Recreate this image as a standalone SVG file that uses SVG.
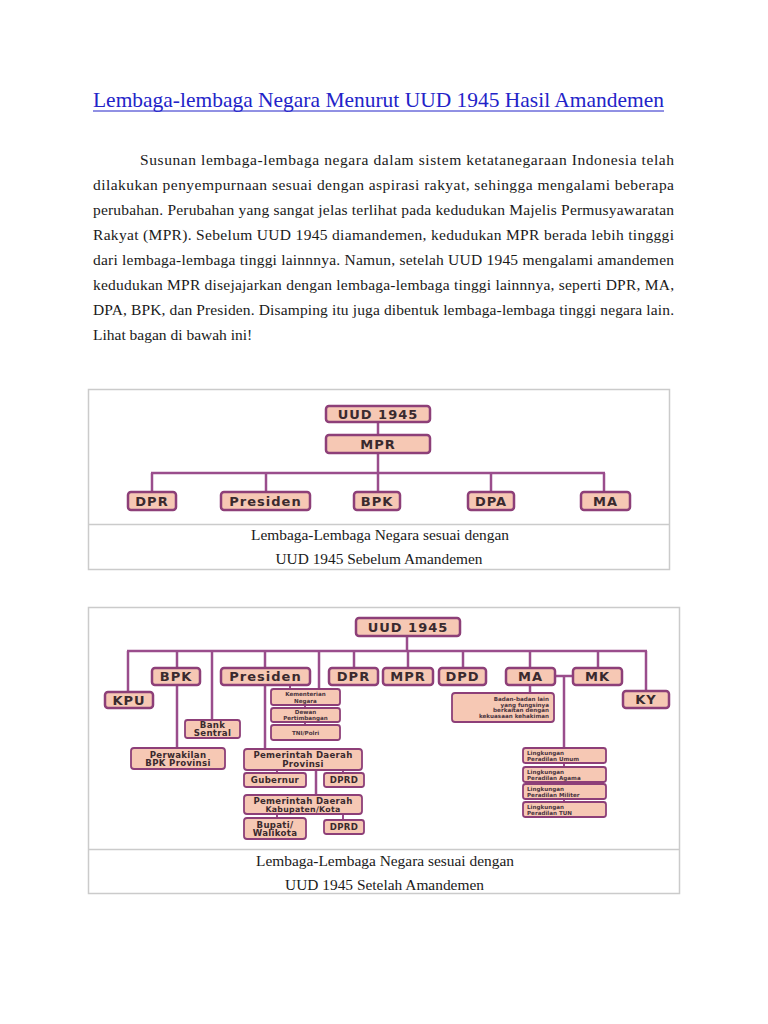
<svg xmlns="http://www.w3.org/2000/svg" width="768" height="1024" viewBox="0 0 768 1024">
<style>
.title{font-family:"Liberation Serif",serif;font-size:22px;fill:#2323c8}
.body{font-family:"Liberation Serif",serif;font-size:15.5px;fill:#1a1a1a}
.cap{font-family:"Liberation Serif",serif;font-size:14.5px;fill:#1a1a1a;text-anchor:middle}
.frame{fill:none;stroke:#cbcbcb;stroke-width:1.5}
.box{fill:#f6c8b4;stroke:#8d3f78;stroke-width:2.5}
.sbox{fill:#f6c8b4;stroke:#8d3f78;stroke-width:1.8}
.lbl{font-family:"DejaVu Sans",sans-serif;font-weight:bold;font-size:13px;letter-spacing:1px;fill:#3a2a2e;text-anchor:middle}
.mid{font-family:"DejaVu Sans",sans-serif;font-weight:bold;font-size:8.6px;letter-spacing:0.3px;fill:#3a2a2e;text-anchor:middle}
.tiny{font-family:"DejaVu Sans",sans-serif;font-weight:bold;font-size:5.6px;fill:#4a3540;text-anchor:middle}
.conn line{stroke:#9a4d8c;stroke-width:2.5}
.conn2 line{stroke:#9a4d8c;stroke-width:2}
</style>

<!-- Title & paragraph -->
<text class="title" x="93" y="107" textLength="571" lengthAdjust="spacingAndGlyphs">Lembaga-lembaga Negara Menurut UUD 1945 Hasil Amandemen</text>
<line x1="93" y1="111" x2="664" y2="111" stroke="#2323c8" stroke-width="1"/>

<text class="body" x="140" y="165" textLength="534" lengthAdjust="spacing">Susunan lembaga-lembaga negara dalam sistem ketatanegaraan Indonesia telah</text>
<text class="body" x="93" y="190" textLength="581" lengthAdjust="spacing">dilakukan penyempurnaan sesuai dengan aspirasi rakyat, sehingga mengalami beberapa</text>
<text class="body" x="93" y="215" textLength="581" lengthAdjust="spacing">perubahan. Perubahan yang sangat jelas terlihat pada kedudukan Majelis Permusyawaratan</text>
<text class="body" x="93" y="240" textLength="581" lengthAdjust="spacing">Rakyat (MPR). Sebelum UUD 1945 diamandemen, kedudukan MPR berada lebih tingggi</text>
<text class="body" x="93" y="265" textLength="581" lengthAdjust="spacing">dari lembaga-lembaga tinggi lainnnya. Namun, setelah UUD 1945 mengalami amandemen</text>
<text class="body" x="93" y="290" textLength="581" lengthAdjust="spacing">kedudukan MPR disejajarkan dengan lembaga-lembaga tinggi lainnnya, seperti DPR, MA,</text>
<text class="body" x="93" y="315" textLength="581" lengthAdjust="spacing">DPA, BPK, dan Presiden. Disamping itu juga dibentuk lembaga-lembaga tinggi negara lain.</text>
<text class="body" x="93" y="340">Lihat bagan di bawah ini!</text>

<!-- Frame 1 -->
<rect class="frame" x="88.5" y="389.5" width="581" height="180"/>
<line class="frame" x1="88.5" y1="524.5" x2="669.5" y2="524.5"/>
<text class="cap" x="380" y="540" textLength="258" lengthAdjust="spacingAndGlyphs">Lembaga-Lembaga Negara sesuai dengan</text>
<text class="cap" x="379" y="564" textLength="207" lengthAdjust="spacingAndGlyphs">UUD 1945 Sebelum Amandemen</text>

<!-- Diagram 1 connectors -->
<g id="connectors-before" class="conn">
<line x1="378" y1="422" x2="378" y2="435"/>
<line x1="378" y1="453" x2="378" y2="492"/>
<line x1="151" y1="473" x2="605" y2="473"/>
<line x1="152" y1="473" x2="152" y2="492"/>
<line x1="266" y1="473" x2="266" y2="492"/>
<line x1="491" y1="473" x2="491" y2="492"/>
<line x1="604" y1="473" x2="604" y2="492"/>
</g>
<g id="b-uud"><rect class="box" x="326" y="406" width="104" height="16" rx="3"/><text class="lbl" x="378" y="418.7">UUD 1945</text></g>
<g id="b-mpr"><rect class="box" x="326" y="435" width="104" height="18" rx="3"/><text class="lbl" x="378" y="448.7">MPR</text></g>
<g id="b-dpr"><rect class="box" x="128" y="492" width="48" height="18" rx="3"/><text class="lbl" x="152" y="505.7">DPR</text></g>
<g id="b-presiden"><rect class="box" x="221" y="492" width="89" height="18" rx="3"/><text class="lbl" x="265.5" y="505.7">Presiden</text></g>
<g id="b-bpk"><rect class="box" x="354" y="492" width="46" height="18" rx="3"/><text class="lbl" x="377" y="505.7">BPK</text></g>
<g id="b-dpa"><rect class="box" x="468" y="492" width="46" height="18" rx="3"/><text class="lbl" x="491" y="505.7">DPA</text></g>
<g id="b-ma"><rect class="box" x="581" y="492" width="49" height="18" rx="3"/><text class="lbl" x="605.5" y="505.7">MA</text></g>

<!-- Frame 2 -->
<rect class="frame" x="88.5" y="607.5" width="591" height="286"/>
<line class="frame" x1="88.5" y1="849.5" x2="679.5" y2="849.5"/>
<text class="cap" x="385" y="866" textLength="258" lengthAdjust="spacingAndGlyphs">Lembaga-Lembaga Negara sesuai dengan</text>
<text class="cap" x="384.5" y="890" textLength="199" lengthAdjust="spacingAndGlyphs">UUD 1945 Setelah Amandemen</text>

<!-- Diagram 2 connectors -->
<g id="connectors-after" class="conn">
<line x1="407" y1="636" x2="407" y2="651"/>
<line x1="127" y1="651" x2="647" y2="651"/>
<line x1="128" y1="651" x2="128" y2="692"/>
<line x1="177" y1="651" x2="177" y2="748"/>
<line x1="212" y1="651" x2="212" y2="720"/>
<line x1="265" y1="651" x2="265" y2="749"/>
<line x1="319" y1="651" x2="319" y2="689"/>
<line x1="354" y1="651" x2="354" y2="668"/>
<line x1="408" y1="651" x2="408" y2="668"/>
<line x1="463" y1="651" x2="463" y2="668"/>
<line x1="530" y1="651" x2="530" y2="693"/>
<line x1="598" y1="651" x2="598" y2="668"/>
<line x1="646" y1="651" x2="646" y2="691"/>
<line x1="555" y1="676" x2="573" y2="676"/>
<line x1="564" y1="676" x2="564" y2="748"/>
<line x1="316" y1="770" x2="316" y2="795"/>
</g>
<g id="connectors-after-small" class="conn2">
<line x1="290" y1="684" x2="290" y2="689"/>
<line x1="305" y1="705" x2="305" y2="708"/>
<line x1="305" y1="722" x2="305" y2="725"/>
<line x1="277" y1="770" x2="277" y2="773"/>
<line x1="343" y1="770" x2="343" y2="773"/>
<line x1="277" y1="814" x2="277" y2="818"/>
<line x1="343" y1="814" x2="343" y2="820"/>
<line x1="564" y1="763" x2="564" y2="767"/>
<line x1="564" y1="782" x2="564" y2="784"/>
<line x1="564" y1="799" x2="564" y2="802"/>
</g>

<g id="a-uud"><rect class="box" x="356" y="618" width="104" height="18" rx="3"/><text class="lbl" x="408" y="631.7">UUD 1945</text></g>
<g id="a-kpu"><rect class="box" x="105" y="692" width="48" height="16" rx="3"/><text class="lbl" x="129" y="704.7">KPU</text></g>
<g id="a-bpk"><rect class="box" x="152" y="668" width="48" height="17" rx="3"/><text class="lbl" x="176" y="681.2">BPK</text></g>
<g id="a-presiden"><rect class="box" x="221" y="668" width="89" height="17" rx="3"/><text class="lbl" x="265.5" y="681.2">Presiden</text></g>
<g id="a-dpr"><rect class="box" x="329" y="668" width="49" height="17" rx="3"/><text class="lbl" x="353.5" y="681.2">DPR</text></g>
<g id="a-mpr"><rect class="box" x="383" y="668" width="50" height="17" rx="3"/><text class="lbl" x="408" y="681.2">MPR</text></g>
<g id="a-dpd"><rect class="box" x="439" y="668" width="47" height="17" rx="3"/><text class="lbl" x="462.5" y="681.2">DPD</text></g>
<g id="a-ma"><rect class="box" x="506" y="668" width="49" height="17" rx="3"/><text class="lbl" x="530.5" y="681.2">MA</text></g>
<g id="a-mk"><rect class="box" x="573" y="668" width="49" height="17" rx="3"/><text class="lbl" x="597.5" y="681.2">MK</text></g>
<g id="a-ky"><rect class="box" x="623" y="691" width="46" height="17" rx="3"/><text class="lbl" x="646" y="704.2">KY</text></g>

<g id="a-kementerian"><rect class="sbox" x="271" y="689" width="69" height="16" rx="2.5"/><text class="tiny" x="305.5" y="695.5">Kementerian</text><text class="tiny" x="305.5" y="702.5">Negara</text></g>
<g id="a-dewan"><rect class="sbox" x="271" y="708" width="69" height="14" rx="2.5"/><text class="tiny" x="305.5" y="714">Dewan</text><text class="tiny" x="305.5" y="720">Pertimbangan</text></g>
<g id="a-tni"><rect class="sbox" x="271" y="725" width="69" height="15" rx="2.5"/><text class="tiny" x="305.5" y="734.5">TNI/Polri</text></g>

<g id="a-bank"><rect class="sbox" x="185" y="720" width="55" height="18" rx="2.5"/><text class="mid" x="212.5" y="727.5">Bank</text><text class="mid" x="212.5" y="735.5">Sentral</text></g>
<g id="a-perwakilan"><rect class="sbox" x="131" y="748" width="94" height="21" rx="3"/><text class="mid" x="178" y="757.5">Perwakilan</text><text class="mid" x="178" y="766">BPK Provinsi</text></g>

<g id="a-provinsi"><rect class="sbox" x="244" y="749" width="118" height="21" rx="3"/><text class="mid" x="303" y="758">Pemerintah Daerah</text><text class="mid" x="303" y="766.5">Provinsi</text></g>
<g id="a-gubernur"><rect class="sbox" x="244" y="773" width="62" height="14" rx="2.5"/><text class="mid" x="275" y="783">Gubernur</text></g>
<g id="a-dprd1"><rect class="sbox" x="324" y="773" width="40" height="14" rx="2.5"/><text class="mid" x="344" y="783">DPRD</text></g>
<g id="a-kabupaten"><rect class="sbox" x="244" y="795" width="118" height="19" rx="3"/><text class="mid" x="303" y="804">Pemerintah Daerah</text><text class="mid" x="303" y="812" style="font-size:7.8px">Kabupaten/Kota</text></g>
<g id="a-bupati"><rect class="sbox" x="244" y="818" width="62" height="21" rx="3"/><text class="mid" x="275" y="827.5">Bupati/</text><text class="mid" x="275" y="836">Walikota</text></g>
<g id="a-dprd2"><rect class="sbox" x="324" y="820" width="40" height="14" rx="2.5"/><text class="mid" x="344" y="830">DPRD</text></g>

<g id="a-badan"><rect class="sbox" x="452" y="693" width="102" height="29" rx="3"/>
<text class="tiny" x="549" y="701" text-anchor="end" style="text-anchor:end">Badan-badan lain</text>
<text class="tiny" x="549" y="706.5" style="text-anchor:end">yang fungsinya</text>
<text class="tiny" x="549" y="712" style="text-anchor:end">berkaitan dengan</text>
<text class="tiny" x="549" y="718" style="text-anchor:end">kekuasaan kehakiman</text></g>

<g id="a-umum"><rect class="sbox" x="523" y="748" width="83" height="15" rx="2.5"/><text class="tiny" x="527" y="754.5" style="text-anchor:start">Lingkungan</text><text class="tiny" x="527" y="760.5" style="text-anchor:start">Peradilan Umum</text></g>
<g id="a-agama"><rect class="sbox" x="523" y="767" width="83" height="15" rx="2.5"/><text class="tiny" x="527" y="773.5" style="text-anchor:start">Lingkungan</text><text class="tiny" x="527" y="779.5" style="text-anchor:start">Peradilan Agama</text></g>
<g id="a-militer"><rect class="sbox" x="523" y="784" width="83" height="15" rx="2.5"/><text class="tiny" x="527" y="790.5" style="text-anchor:start">Lingkungan</text><text class="tiny" x="527" y="796.5" style="text-anchor:start">Peradilan Militer</text></g>
<g id="a-tun"><rect class="sbox" x="523" y="802" width="83" height="15" rx="2.5"/><text class="tiny" x="527" y="808.5" style="text-anchor:start">Lingkungan</text><text class="tiny" x="527" y="814.5" style="text-anchor:start">Peradilan TUN</text></g>
</svg>
